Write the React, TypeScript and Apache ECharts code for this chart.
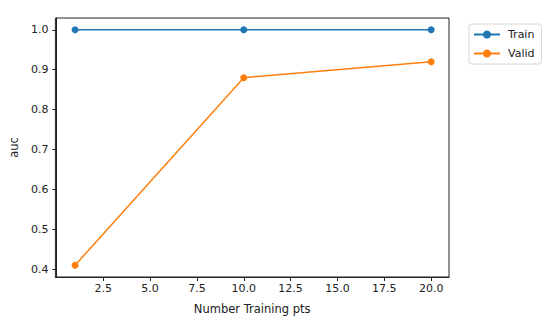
import React, { useEffect, useRef } from "react";
import * as echarts from "echarts";

const xValues = [1, 10, 20];
const trainAuc = [1.0, 1.0, 1.0];
const validAuc = [0.41, 0.88, 0.92];
const xTicks = [2.5, 5.0, 7.5, 10.0, 12.5, 15.0, 17.5, 20.0];
const yTicks = [0.4, 0.5, 0.6, 0.7, 0.8, 0.9, 1.0];

const FONT = "DejaVu Sans";

export default function App() {
  const ref = useRef<HTMLDivElement>(null);
  useEffect(() => {
    document.body.style.margin = "0";
    const chart = echarts.init(ref.current!, null, { renderer: "svg" });
    chart.setOption({
      animation: false,
      backgroundColor: "#fff",
      textStyle: { fontFamily: FONT },
      grid: {
        left: 50,
        top: 18,
        width: 399,
        height: 259,
        show: true,
        borderColor: "#222",
        borderWidth: 1,
        backgroundColor: "transparent",
      },
      legend: {
        orient: "vertical",
        left: 469,
        top: 24,
        padding: [5, 7, 5, 4],
        itemWidth: 26,
        itemHeight: 10,
        itemGap: 8,
        borderColor: "#d6d6d6",
        borderWidth: 1,
        borderRadius: 3,
        textStyle: { fontFamily: FONT, fontSize: 11, color: "#222", padding: [0, 0, 0, 3] },
        data: ["Train", "Valid"],
      },
      xAxis: {
        type: "value",
        min: -0.05,
        max: 20.95,
        name: "Number Training pts",
        nameLocation: "middle",
        nameGap: 26,
        nameTextStyle: { fontFamily: FONT, fontSize: 11.5, color: "#222" },
        axisLine: { show: true, lineStyle: { color: "#222", width: 1 } },
        axisTick: {
          show: true,
          length: 4,
          lineStyle: { color: "#222" },
          customValues: xTicks,
        },
        axisLabel: {
          fontFamily: FONT,
          fontSize: 11,
          color: "#222",
          margin: 6,
          customValues: xTicks,
          formatter: (v: number) => v.toFixed(1),
        },
        splitLine: { show: false },
      },
      yAxis: {
        type: "value",
        min: 0.3805,
        max: 1.0295,
        name: "auc",
        nameLocation: "middle",
        nameGap: 33,
        nameTextStyle: { fontFamily: FONT, fontSize: 11.5, color: "#222" },
        axisLine: { show: true, lineStyle: { color: "#222", width: 1 } },
        axisTick: {
          show: true,
          length: 4,
          lineStyle: { color: "#222" },
          customValues: yTicks,
        },
        axisLabel: {
          fontFamily: FONT,
          fontSize: 11,
          color: "#222",
          margin: 7,
          customValues: yTicks,
          formatter: (v: number) => v.toFixed(1),
        },
        splitLine: { show: false },
      },
      series: [
        {
          name: "Train",
          type: "line",
          data: xValues.map((x, i) => [x, trainAuc[i]]),
          symbol: "circle",
          symbolSize: 7,
          lineStyle: { width: 1.5, color: "#1f77b4" },
          itemStyle: { color: "#1f77b4" },
        },
        {
          name: "Valid",
          type: "line",
          data: xValues.map((x, i) => [x, validAuc[i]]),
          symbol: "circle",
          symbolSize: 7,
          lineStyle: { width: 1.5, color: "#ff7f0e" },
          itemStyle: { color: "#ff7f0e" },
        },
      ],
    });
    return () => chart.dispose();
  }, []);
  return <div ref={ref} style={{ width: 550, height: 323 }} />;
}
